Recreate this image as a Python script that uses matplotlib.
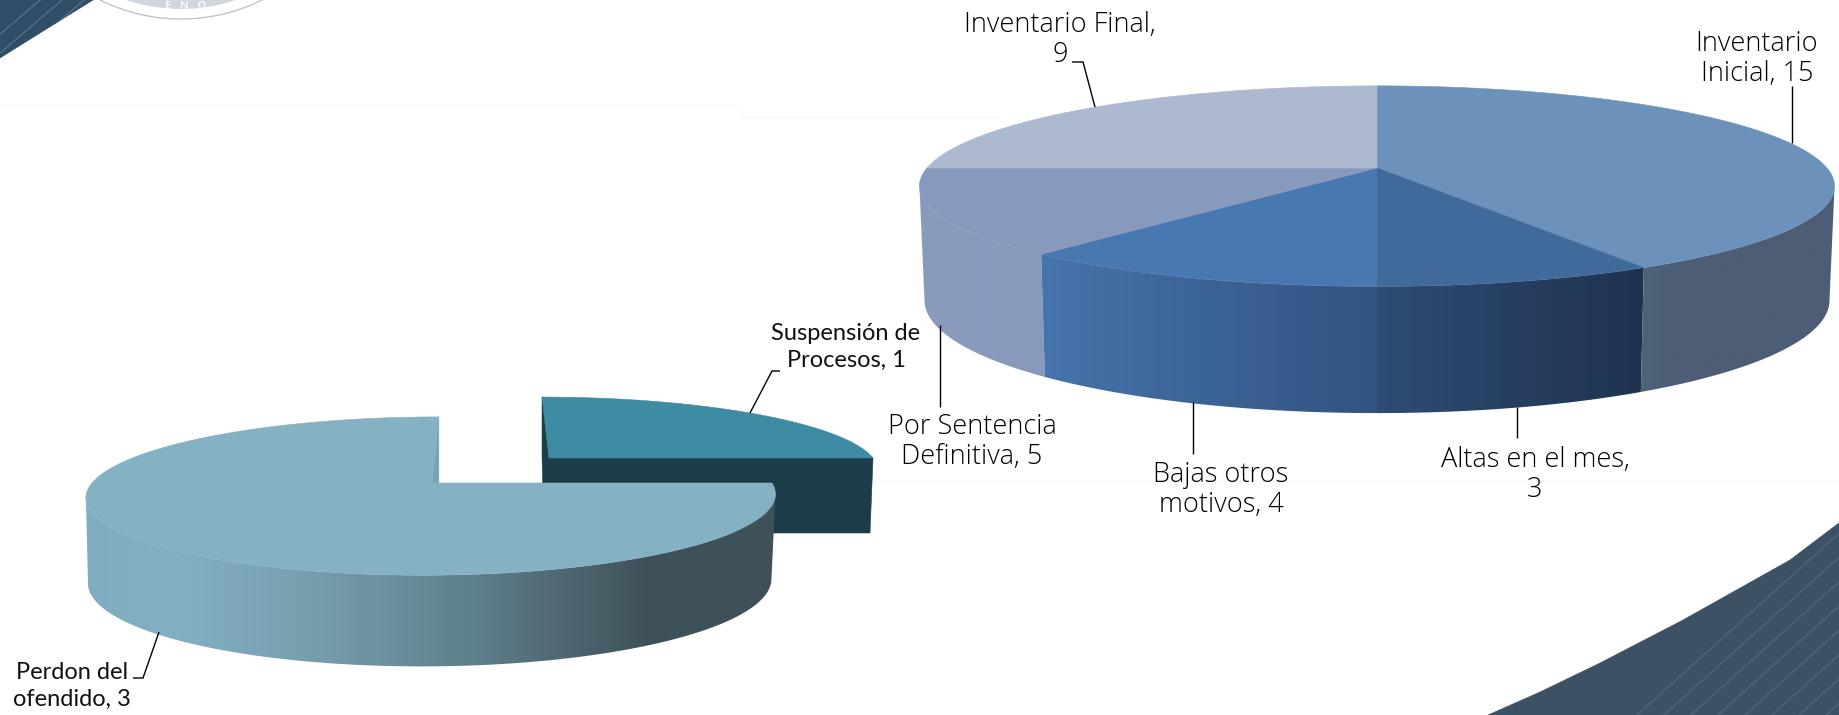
import numpy as np
import matplotlib
matplotlib.use('Agg')
import matplotlib.pyplot as plt
from matplotlib.colors import LinearSegmentedColormap
from matplotlib.patches import Polygon, Circle

# right pie, clockwise from the top
right_values = [15, 3, 4, 5, 9]
right_top_colors = ['#6c92bc', '#3f6a9a', '#4878b0', '#8799bc', '#adb9d1']
right_labels = ['Inventario\nInicial, 15', 'Altas en el mes,\n3', 'Bajas otros\nmotivos, 4',
                'Por Sentencia\nDefinitiva, 5', 'Inventario Final,\n9']

# left pie
left_values = [1, 3]
left_labels = ['Suspensión de\nProcesos, 1', 'Perdon del\nofendido, 3']

W, H = 1839, 715
fig = plt.figure(figsize=(W / 100, H / 100), dpi=100)
ax = fig.add_axes([0, 0, 1, 1])
ax.set_xlim(0, W)
ax.set_ylim(H, 0)
ax.axis('off')


def rim(deg, cx, cy, r, h, k, c=0.0):
    # tilted circle with perspective, deg clockwise from the back of the pie
    t = np.radians(deg)
    sx, sy = np.sin(t), np.cos(t)
    w = 1 + k * sy
    return np.column_stack([cx + (r * sx + c * sy) / w, cy - h * sy / w])


def arc(a, b, geo):
    return rim(np.linspace(a, b, 160), *geo)


def wall(a, b, top, bottom):
    return np.vstack([arc(a, b, top), arc(a, b, bottom)[::-1]])


def gradient(poly, xs, colors, z):
    pos = (np.array(xs) - xs[0]) / (xs[-1] - xs[0])
    cmap = LinearSegmentedColormap.from_list('g', list(zip(pos, colors)))
    im = ax.imshow(np.linspace(0, 1, 512)[None, :], extent=(xs[0], xs[-1], H, 0), aspect='auto',
                   cmap=cmap, zorder=z, interpolation='bilinear')
    clip = Polygon(poly, transform=ax.transData, fc='none', ec='none')
    ax.add_patch(clip)
    im.set_clip_path(clip)
    ax.set_xlim(0, W)
    ax.set_ylim(H, 0)


def flat(poly, color, z):
    ax.add_patch(Polygon(poly, closed=True, fc=color, ec=color, lw=0.4, zorder=z))


def stripes(poly, color, start, stop, step, slope, z):
    clip = Polygon(poly, transform=ax.transData, fc='none', ec='none')
    ax.add_patch(clip)
    for x0 in np.arange(start, stop, step):
        ln, = ax.plot([x0, x0 + 400], [H, H - 400 * slope], color=color, lw=1.3, zorder=z)
        ln.set_clip_path(clip)


# background pieces of the slide
corner = [(0, 0), (93, 0), (0, 58)]
flat(corner, '#2f4d66', 1)
for x0 in np.arange(-30, 90, 22):
    ln, = ax.plot([x0, x0 + 70], [60, 0], color='#4f6d84', lw=1.1, zorder=2)
    ln.set_clip_path(Polygon(corner, transform=ax.transData))
curve_x = [1488, 1540, 1600, 1683, 1790, 1823, 1839, 1839]
curve_y = [715, 692, 663, 620, 560, 535, 523, 715]
swoosh = list(zip(curve_x, curve_y))
flat(swoosh, '#3d5164', 1)
stripes(swoosh, '#4a6276', 1637, 1960, 27, 0.9, 2)

ax.add_patch(Circle((181, -163), 182, fc='white', ec='#c4c4c0', lw=1.0, zorder=1))
ax.add_patch(Circle((181, -163), 172, fc='#d0d6de', ec='none', zorder=1))
ax.text(186, 9, 'E   N   O', ha='center', va='baseline', fontsize=8, color='#f6f7f8',
        family='Open Sans', weight='bold', zorder=2)

for x0, x1, y0 in [(0, 740, 105), (740, 1000, 117), (880, 1839, 480)]:
    ax.plot([x0, x1], [y0, y0], color='#f8f8f8', lw=1, zorder=0)

# ---- right pie
top_r = (1377, 168, 450, 97, 0.181)
bot_r = (1377, 280, 445, 109, 0.181)
edges = np.concatenate([[0], np.cumsum(right_values)]) / sum(right_values) * 360
centre_r = np.array([[top_r[0], top_r[1]]])
turn_r = np.degrees(np.arcsin(top_r[4]))  # where the rim turns and the side wall ends

gradient(wall(edges[3], 270 - turn_r, top_r, bot_r), [900, 1100], ['#8a9cbe', '#8799bc'], 3)
gradient(wall(edges[2], edges[3], top_r, bot_r), [1030, 1390], ['#4775ad', '#30527e'], 3)
gradient(wall(edges[1], edges[2], top_r, bot_r), [1370, 1650], ['#2f4d75', '#1e324e'], 3)
gradient(wall(90 + turn_r, edges[1], top_r, bot_r), [1635, 1670, 1840], ['#506576', '#4c5d75', '#4c5d75'], 3)

for a, b, col in zip(edges[:-1], edges[1:], right_top_colors):
    flat(np.vstack([centre_r, arc(a, b, top_r)]), col, 4)

# ---- left pie, the small slice is pulled out towards the back right
total = sum(left_values)
cut = left_values[0] / total * 360
top_s = (549, 458, 324, 70, 0.149, -8)
bot_s = (546, 533, 324, 70, 0.149, -8)
back_s, right_s = rim(0, *top_s)[0], rim(cut, *top_s)[0]
right_b = rim(cut, *bot_s)[0]
flat([back_s, right_s, right_b, (544, 533), (back_s[0], 458)], '#1b3c48', 3)
flat(np.vstack([[top_s[:2]], arc(0, cut, top_s)]), '#3e8ba4', 4)

top_p = (432, 483, 340, 77, 0.165, 8)
bot_p = (431, 567, 337, 83, 0.165, 8)
turn_p = np.degrees(np.arcsin(top_p[4]))
gradient(wall(cut + turn_p, 270 - turn_p, top_p, bot_p), [85, 170, 320, 470, 620, 650, 780],
         ['#7fadbf', '#83b1c3', '#759dad', '#5f808d', '#455962', '#3e5059', '#3f5058'], 5)
back_p = rim(0, *top_p)[0]
flat([top_p[:2], back_p, (back_p[0], top_p[1])], '#78a3b5', 6)
flat(np.vstack([[top_p[:2]], arc(cut, 360, top_p)]), '#85b2c3', 6)

# ---- labels
leaders = [
    ([1792, 1792], [86, 143]),
    ([1517, 1517], [407, 438]),
    ([1193, 1193], [402, 454]),
    ([940, 940], [325, 407]),
    ([1072, 1083, 1095], [62, 62, 107]),
    ([750, 772, 780], [413, 371, 371]),
    ([159, 143, 133], [632, 678, 678]),
]
for xs, ys in leaders:
    ax.plot(xs, ys, color='black', lw=1.0, zorder=7, solid_capstyle='butt', solid_joinstyle='miter')

right_pos = [(1757, 59), (1535, 475), (1221, 490), (972, 442), (1060, 40)]
for (x, y), txt in zip(right_pos, right_labels):
    ax.text(x, y, txt, ha='center', va='center', multialignment='center', fontsize=19.5,
            family='Open Sans', weight='light', color='black', linespacing=1.09, zorder=8)
left_pos = [(846, 347), (72, 686)]
for (x, y), txt in zip(left_pos, left_labels):
    ax.text(x, y, txt, ha='center', va='center', multialignment='center', fontsize=17,
            family='Lato', color='#111111', linespacing=1.35, zorder=8)

fig.savefig('out.png', dpi=100)
